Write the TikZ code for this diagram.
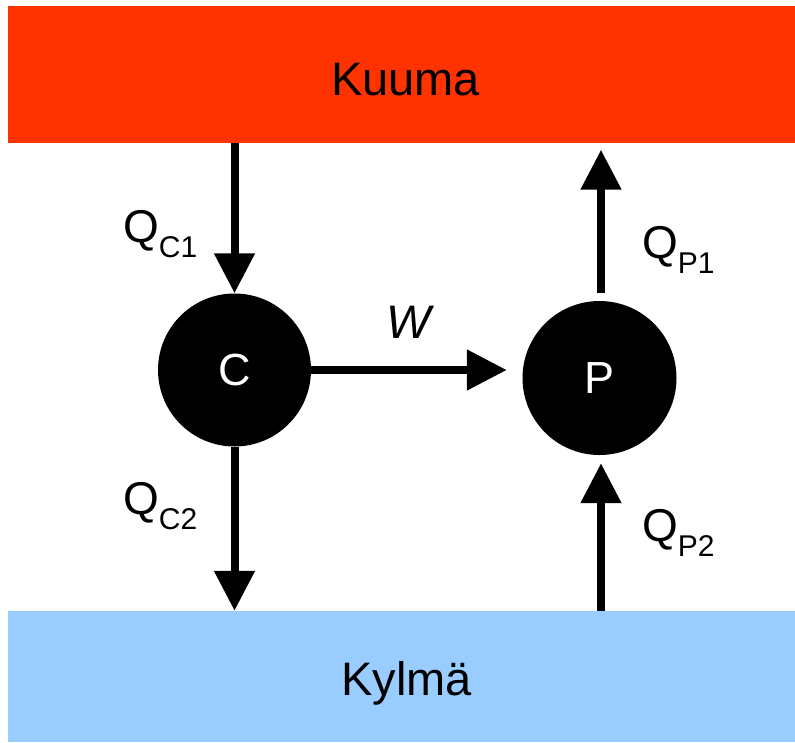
\documentclass[tikz,border=0pt]{standalone}
\usepackage{fontspec}
\setmainfont{Liberation Sans}
\usetikzlibrary{arrows.meta}
\definecolor{hotred}{HTML}{FF3300}
\definecolor{coldblue}{HTML}{99CCFF}
\newcommand\qlab[2]{#1\raisebox{-15pt}{\fontsize{30}{30}\selectfont #2}}
\tikzset{
  reservoir/.style={rectangle, draw=none, inner sep=0pt},
  engine/.style={circle, fill=black, inner sep=0pt, text=white, font=\fontsize{45}{54}\selectfont},
  bigtext/.style={inner sep=0pt, font=\fontsize{47}{56}\selectfont},
  qtext/.style={inner sep=0pt, anchor=base west, font=\fontsize{46}{56}\selectfont},
  flow/.style={line width=8pt, -{Triangle[length=40pt,width=39pt]}},
}
\begin{document}
\begin{tikzpicture}[x=1pt,y=-1pt]
\useasboundingbox (0,0) rectangle (795,742);
\fill[white] (0,0) rectangle (795,742);
\node[reservoir, fill=hotred, minimum width=787pt, minimum height=136.5pt] (hot) at (401.5,74.25) {};
\node[reservoir, fill=coldblue, minimum width=787pt, minimum height=131pt] (cold) at (401.5,676.5) {};
\node[bigtext, anchor=base] (hottext) at (405.5,95) {Kuuma};
\node[bigtext, anchor=base] (coldtext) at (406.5,695) {Kylmä};
\node[engine, minimum size=153pt] (C) at (234.5,370) {C};
\node[engine, minimum size=154pt] (P) at (599.5,378) {P};
\draw[flow] (C.north |- hot.south) -- (C.north);
\draw[flow] (C.south) -- (C.south |- cold.north);
\draw[flow, shorten >=15.5pt] (C.east) -- (C.east -| P.west);
\draw[flow, shorten <=8pt, shorten >=7pt] ([xshift=1.5pt]P.north) -- ([xshift=1.5pt]P.north |- hot.south);
\draw[flow, shorten >=8pt] ([xshift=1.5pt]P.south |- cold.north) -- ([xshift=1.5pt]P.south);
\node[qtext] (qc1) at (123,242) {\qlab{Q}{C1}};
\node[qtext] (qc2) at (123,514) {\qlab{Q}{C2}};
\node[qtext] (qp1) at (642,258) {\qlab{Q}{P1}};
\node[qtext] (qp2) at (642,541) {\qlab{Q}{P2}};
\node[inner sep=0pt, anchor=base, font=\fontsize{47}{56}\selectfont\itshape] (w) at (408.5,338) {W};
\end{tikzpicture}
\end{document}
